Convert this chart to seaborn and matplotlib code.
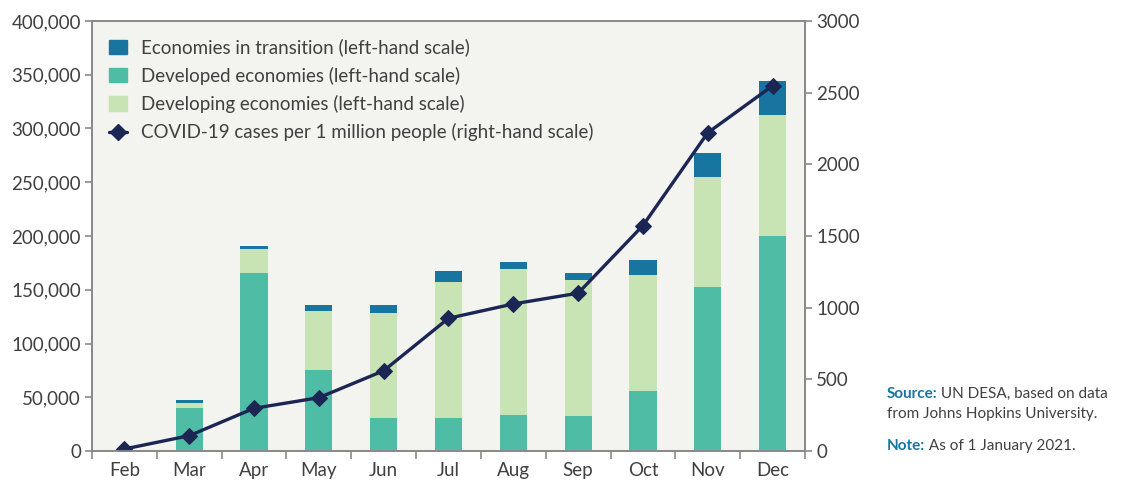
import numpy as np
import pandas as pd
import matplotlib
matplotlib.use("Agg")
import matplotlib.pyplot as plt
from matplotlib.patches import Patch
from matplotlib.lines import Line2D
from matplotlib.ticker import FuncFormatter, FixedLocator
import seaborn as sns

# data
months = ["Feb", "Mar", "Apr", "May", "Jun", "Jul", "Aug", "Sep", "Oct", "Nov", "Dec"]
developed = [300, 40000, 165300, 75300, 30400, 30400, 33500, 32600, 55800, 152200, 200300]
developing = [200, 5000, 23000, 55200, 98300, 126800, 135500, 126500, 108200, 102400, 112300]
transition = [100, 2300, 2400, 5000, 6800, 10500, 6800, 6800, 13700, 22900, 31600]
cases_per_million = [14, 107, 298, 372, 560, 926, 1026, 1101, 1573, 2220, 2548]

c_trans = "#1775a0"
c_dev = "#4fbda5"
c_devg = "#c9e4b4"
c_line = "#1b2654"
txt = "#404040"
spine = "#8a8a8a"

sns.set_theme(style="white")
plt.rcParams['font.family'] = ['Lato', 'DejaVu Sans']

df = pd.DataFrame({"month": months, "developed": developed,
                   "developing": developing, "transition": transition,
                   "cases": cases_per_million})
df["lvl2"] = df["developed"] + df["developing"]
df["lvl3"] = df["lvl2"] + df["transition"]

fig = plt.figure(figsize=(11.28, 4.87), dpi=100)
ax = fig.add_axes([0.0816, 0.0739, 0.632, 0.883])
ax.set_facecolor("#f3f3ef")

bw = 0.42
sns.barplot(data=df, x="month", y="lvl3", color=c_trans, width=bw, saturation=1, linewidth=0, ax=ax)
sns.barplot(data=df, x="month", y="lvl2", color=c_devg, width=bw, saturation=1, linewidth=0, ax=ax)
sns.barplot(data=df, x="month", y="developed", color=c_dev, width=bw, saturation=1, linewidth=0, ax=ax)

ax.set_ylim(0, 400000)
ax.set_xlim(-0.5, 10.5)
ax.set_yticks(np.arange(0, 400001, 50000))
ax.yaxis.set_major_formatter(FuncFormatter(lambda v, p: f"{int(v):,}"))
ax.set_xlabel("")
ax.set_ylabel("")

ax2 = ax.twinx()
idx = np.arange(len(months))
sns.lineplot(x=idx, y=df["cases"], color=c_line, lw=2.4, marker="D",
             markersize=8.5, markeredgecolor=c_line, ax=ax2)
ax2.set_ylim(0, 3000)
ax2.set_yticks(np.arange(0, 3001, 500))
ax2.set_ylabel("")
ax2.set_xlim(-0.5, 10.5)

# x ticks: labels at centers, tick marks at boundaries
ax.xaxis.set_major_locator(FixedLocator(idx))
ax.set_xticklabels(months)
ax.xaxis.set_minor_locator(FixedLocator(np.arange(-0.5, 11, 1)))
ax.tick_params(axis="x", which="major", length=0, labelsize=13.5, colors=txt, pad=8)
ax.tick_params(axis="x", which="minor", length=6, width=1.2, color=spine, direction="out", bottom=True)
ax.tick_params(axis="y", length=5, width=1.2, color=spine, labelsize=13.5, labelcolor=txt, direction="out", left=True, pad=3)
ax2.tick_params(axis="y", length=5, width=1.2, color=spine, labelsize=13.5, labelcolor=txt, direction="out", right=True, pad=3)

for a in (ax, ax2):
    for s in a.spines.values():
        s.set_color(spine)
        s.set_linewidth(1.3)
        s.set_visible(True)

handles = [Patch(color=c_trans, label="Economies in transition (left-hand scale)"),
           Patch(color=c_dev, label="Developed economies (left-hand scale)"),
           Patch(color=c_devg, label="Developing economies (left-hand scale)"),
           Line2D([0], [0], color=c_line, lw=2.4, marker="D", markersize=8,
                  label="COVID-19 cases per 1 million people (right-hand scale)")]
leg = ax2.legend(handles=handles, loc="upper left", bbox_to_anchor=(0.005, 0.99),
                 frameon=False, fontsize=13.5, handlelength=1.0, handleheight=0.8,
                 handletextpad=0.7, labelspacing=0.55, borderaxespad=0.3)
for t in leg.get_texts():
    t.set_color(txt)

# source and note
blue_txt = "#1775a0"
s1 = fig.text(0.786, 0.183, "Source:", fontsize=11, fontweight="bold", color=blue_txt)
ax.annotate(" UN DESA, based on data", xy=(1, 0), xycoords=s1, fontsize=11, color=txt,
            va="bottom", ha="left", annotation_clip=False)
fig.text(0.786, 0.142, "from Johns Hopkins University.", fontsize=11, color=txt)
s2 = fig.text(0.786, 0.077, "Note:", fontsize=11, fontweight="bold", color=blue_txt)
ax.annotate(" As of 1 January 2021.", xy=(1, 0), xycoords=s2, fontsize=11, color=txt,
            va="bottom", ha="left", annotation_clip=False)

fig.savefig("out.png", dpi=100, facecolor="white")
